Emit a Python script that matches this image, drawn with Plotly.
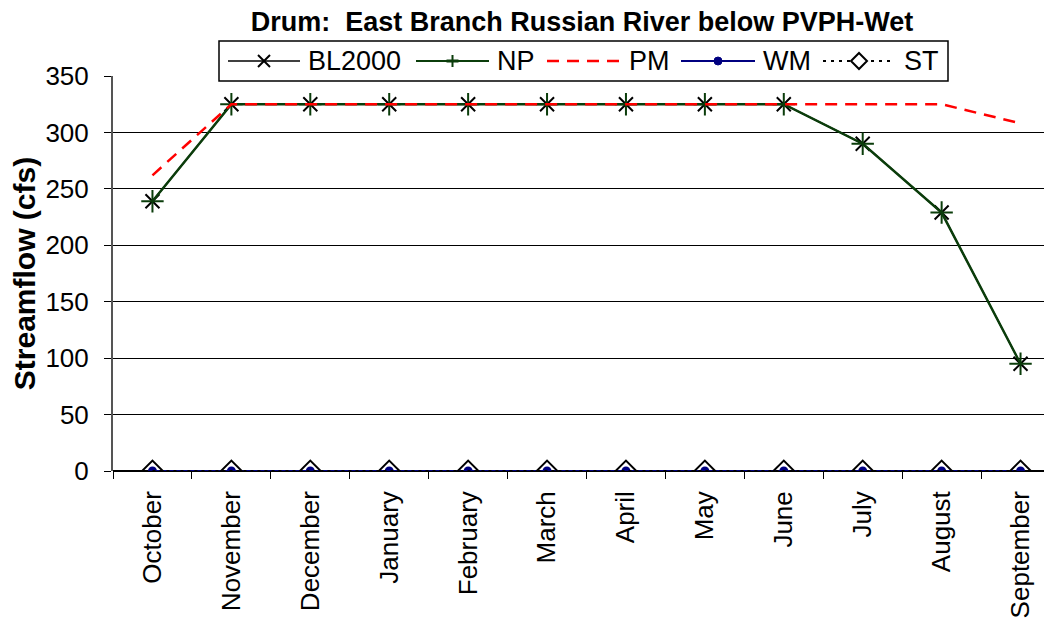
import plotly.graph_objects as go

months = ["October", "November", "December", "January", "February", "March",
          "April", "May", "June", "July", "August", "September"]
bl2000 = [239, 325, 325, 325, 325, 325, 325, 325, 325, 290, 229, 95]
np_flow = [239, 325, 325, 325, 325, 325, 325, 325, 325, 290, 229, 95]
pm = [262, 325, 325, 325, 325, 325, 325, 325, 325, 325, 325, 308]
wm = [0] * 12
st = [0] * 12

xs = list(range(len(months)))

# page body has an 8px margin, so the figure sits 8px right/down in the window
L, T, W, H = 105, 68, 947, 395

def px(vx):
    return (vx - 8 - L) / W

def py(vy):
    return (T + H - (vy - 8)) / H

NP_GREEN = "#0b3d0b"

fig = go.Figure()
fig.add_trace(go.Scatter(x=xs, y=bl2000, name="BL2000", mode="lines+markers",
                         line=dict(color="black", width=1.5),
                         marker=dict(symbol="x-thin-open", size=14,
                                     line=dict(color="black", width=2))))
fig.add_trace(go.Scatter(x=xs, y=np_flow, name="NP", mode="lines+markers",
                         line=dict(color=NP_GREEN, width=2.5),
                         marker=dict(symbol="cross-thin-open", size=16,
                                     line=dict(color=NP_GREEN, width=2))))
fig.add_trace(go.Scatter(x=xs, y=pm, name="PM", mode="lines",
                         line=dict(color="red", width=2.5, dash="12px,8px")))
fig.add_trace(go.Scatter(x=xs, y=wm, name="WM", mode="lines+markers",
                         line=dict(color="navy", width=2),
                         marker=dict(symbol="circle", size=9, color="navy")))
fig.add_trace(go.Scatter(x=xs, y=st, name="ST", mode="lines+markers",
                         line=dict(color="black", width=2, dash="3px,4px"),
                         marker=dict(symbol="diamond-open", size=16,
                                     line=dict(color="black", width=2))))

# hand-drawn legend box (Excel style: long sample lines)
shapes = [dict(type="rect", xref="paper", yref="paper",
               x0=px(219), x1=px(948), y0=py(81), y1=py(41),
               line=dict(color="black", width=1.5), fillcolor="white", layer="above")]
annots = []
ly = 61
items = [
    ("BL2000", 228, 300, 306, dict(color="black", width=1.5), "x"),
    ("NP", 416, 489, 495, dict(color=NP_GREEN, width=2), "+"),
    ("PM", 547, 620, 627, dict(color="red", width=2.5, dash="12px,8px"), None),
    ("WM", 681, 755, 761, dict(color="navy", width=2), "o"),
    ("ST", 823, 895, 902, dict(color="black", width=2, dash="3px,5px"), "d"),
]
for name, x0, x1, tx, ln, mk in items:
    shapes.append(dict(type="line", xref="paper", yref="paper", layer="above",
                       x0=px(x0), x1=px(x1), y0=py(ly), y1=py(ly), line=ln))
    cx = (x0 + x1) / 2
    if mk == "x":
        for d in (1, -1):
            shapes.append(dict(type="line", xref="paper", yref="paper", layer="above",
                               x0=px(cx - 6), x1=px(cx + 6), y0=py(ly - 6 * d), y1=py(ly + 6 * d),
                               line=dict(color="black", width=2)))
    elif mk == "+":
        shapes.append(dict(type="line", xref="paper", yref="paper", layer="above",
                           x0=px(cx - 6), x1=px(cx + 6), y0=py(ly), y1=py(ly),
                           line=dict(color=NP_GREEN, width=3)))
        shapes.append(dict(type="line", xref="paper", yref="paper", layer="above",
                           x0=px(cx), x1=px(cx), y0=py(ly - 6), y1=py(ly + 6),
                           line=dict(color=NP_GREEN, width=2)))
    elif mk == "o":
        shapes.append(dict(type="circle", xref="paper", yref="paper", layer="above",
                           x0=px(cx - 4), x1=px(cx + 4), y0=py(ly + 4), y1=py(ly - 4),
                           fillcolor="navy", line=dict(color="navy", width=1)))
    elif mk == "d":
        path = "M {} {} L {} {} L {} {} L {} {} Z".format(
            px(cx - 8), py(ly), px(cx), py(ly - 8), px(cx + 8), py(ly), px(cx), py(ly + 8))
        shapes.append(dict(type="path", xref="paper", yref="paper", layer="above",
                           path=path, fillcolor="white", line=dict(color="black", width=2)))
    annots.append(dict(text=name, xref="paper", yref="paper", x=px(tx), y=py(ly),
                       xanchor="left", yanchor="middle", showarrow=False,
                       font=dict(size=27)))

fig.update_layout(
    width=1052, height=629,
    margin=dict(l=L, r=1052 - L - W, t=T, b=629 - T - H, autoexpand=False),
    paper_bgcolor="white", plot_bgcolor="white",
    font=dict(family="Arial, Liberation Sans, sans-serif", color="black", size=26),
    title=dict(text="<b>Drum:  East Branch Russian River below PVPH-Wet</b>",
               xref="container", x=(582 - 8) / 1052, xanchor="center",
               yref="container", y=1 - (22 - 8) / 629, yanchor="middle",
               font=dict(size=27), automargin=False),
    showlegend=False,
    shapes=shapes,
    annotations=annots,
)
fig.update_xaxes(
    range=[-0.5, 11.5], tickmode="array", tickvals=xs, ticktext=months,
    tickangle=-90, ticks="", showgrid=False, zeroline=False,
    showline=False, automargin=False, tickfont=dict(size=26),
    ticklabelstandoff=14,
    minor=dict(ticks="outside", tick0=0.5, dtick=1, ticklen=7,
               tickcolor="black", showgrid=False),
)
fig.update_yaxes(
    range=[0, 350], dtick=50, ticks="outside", ticklen=7, tickcolor="black",
    showgrid=True, gridcolor="black", gridwidth=1, zeroline=True,
    zerolinecolor="black", zerolinewidth=1.5,
    showline=True, linecolor="#555", linewidth=2, automargin=False,
    tickfont=dict(size=26), ticklabelstandoff=10,
    title=dict(text="<b>Streamflow (cfs)</b>", font=dict(size=30), standoff=18),
)

fig.write_html("out.html")
